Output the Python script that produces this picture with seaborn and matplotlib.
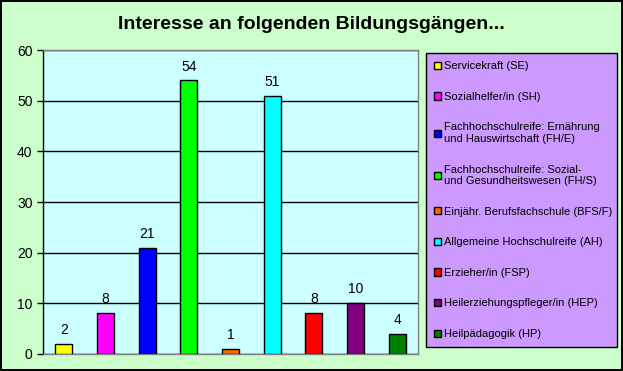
import matplotlib
matplotlib.use('Agg')
import matplotlib.pyplot as plt
import seaborn as sns
import pandas as pd

# Daten aus dem Diagramm
kategorien = [
    "Servicekraft (SE)",
    "Sozialhelfer/in (SH)",
    "Fachhochschulreife: Ernährung\nund Hauswirtschaft (FH/E)",
    "Fachhochschulreife: Sozial-\nund Gesundheitswesen (FH/S)",
    "Einjähr. Berufsfachschule (BFS/F)",
    "Allgemeine Hochschulreife (AH)",
    "Erzieher/in (FSP)",
    "Heilerziehungspfleger/in (HEP)",
    "Heilpädagogik (HP)",
]
werte = [2, 8, 21, 54, 1, 51, 8, 10, 4]
farben = ["#FFFF00", "#FF00FF", "#0000FF", "#00FF00", "#FF6600",
          "#00FFFF", "#FF0000", "#800080", "#008000"]
y_ticks = [0, 10, 20, 30, 40, 50, 60]

plt.rcParams['font.family'] = ['Liberation Sans', 'DejaVu Sans']

df = pd.DataFrame({"Bildungsgang": kategorien, "Anzahl": werte})

fig = plt.figure(figsize=(6.23, 3.71), dpi=100, facecolor="#CCFFCC",
                 edgecolor="black", linewidth=1.5)
ax = fig.add_axes([0.069, 0.046, 0.602, 0.819])
ax.set_facecolor("#CCFFFF")

sns.barplot(data=df, x="Bildungsgang", y="Anzahl", hue="Bildungsgang",
            palette=farben, saturation=1, dodge=False, width=0.41,
            edgecolor="black", linewidth=1, legend=True, ax=ax, zorder=3)

for cont in ax.containers:
    ax.bar_label(cont, padding=5, fontsize=10)

ax.set_ylim(0, 60)
ax.set_yticks(y_ticks)
ax.set_xlim(-0.5, len(werte) - 0.5)
ax.set_xticks([])
ax.set_xlabel("")
ax.set_ylabel("")
ax.tick_params(axis='y', length=4, width=1, color="black", labelsize=10)
ax.yaxis.grid(True, color="black", linewidth=1, zorder=1)
ax.set_axisbelow(True)
for s in ax.spines.values():
    s.set_color("#808080")
    s.set_linewidth(1)
ax.spines['left'].set_color("black")

handles, labels = ax.get_legend_handles_labels()
ax.get_legend().remove()
leg = fig.legend(handles, labels, loc="upper left",
                 bbox_to_anchor=(0.684, 0.857, 0.306, 0), mode="expand",
                 fontsize=8, labelspacing=1.85, handlelength=0.6,
                 handleheight=0.6, handletextpad=0.3, borderpad=0.75,
                 borderaxespad=0, fancybox=False, framealpha=1,
                 facecolor="#CC99FF", edgecolor="black")
leg.get_frame().set_linewidth(1)

fig.suptitle("Interesse an folgenden Bildungsgängen...", x=0.5, y=0.957,
             fontsize=14, fontweight="bold")

fig.savefig("out.png", dpi=100, facecolor=fig.get_facecolor(),
            edgecolor=fig.get_edgecolor())
